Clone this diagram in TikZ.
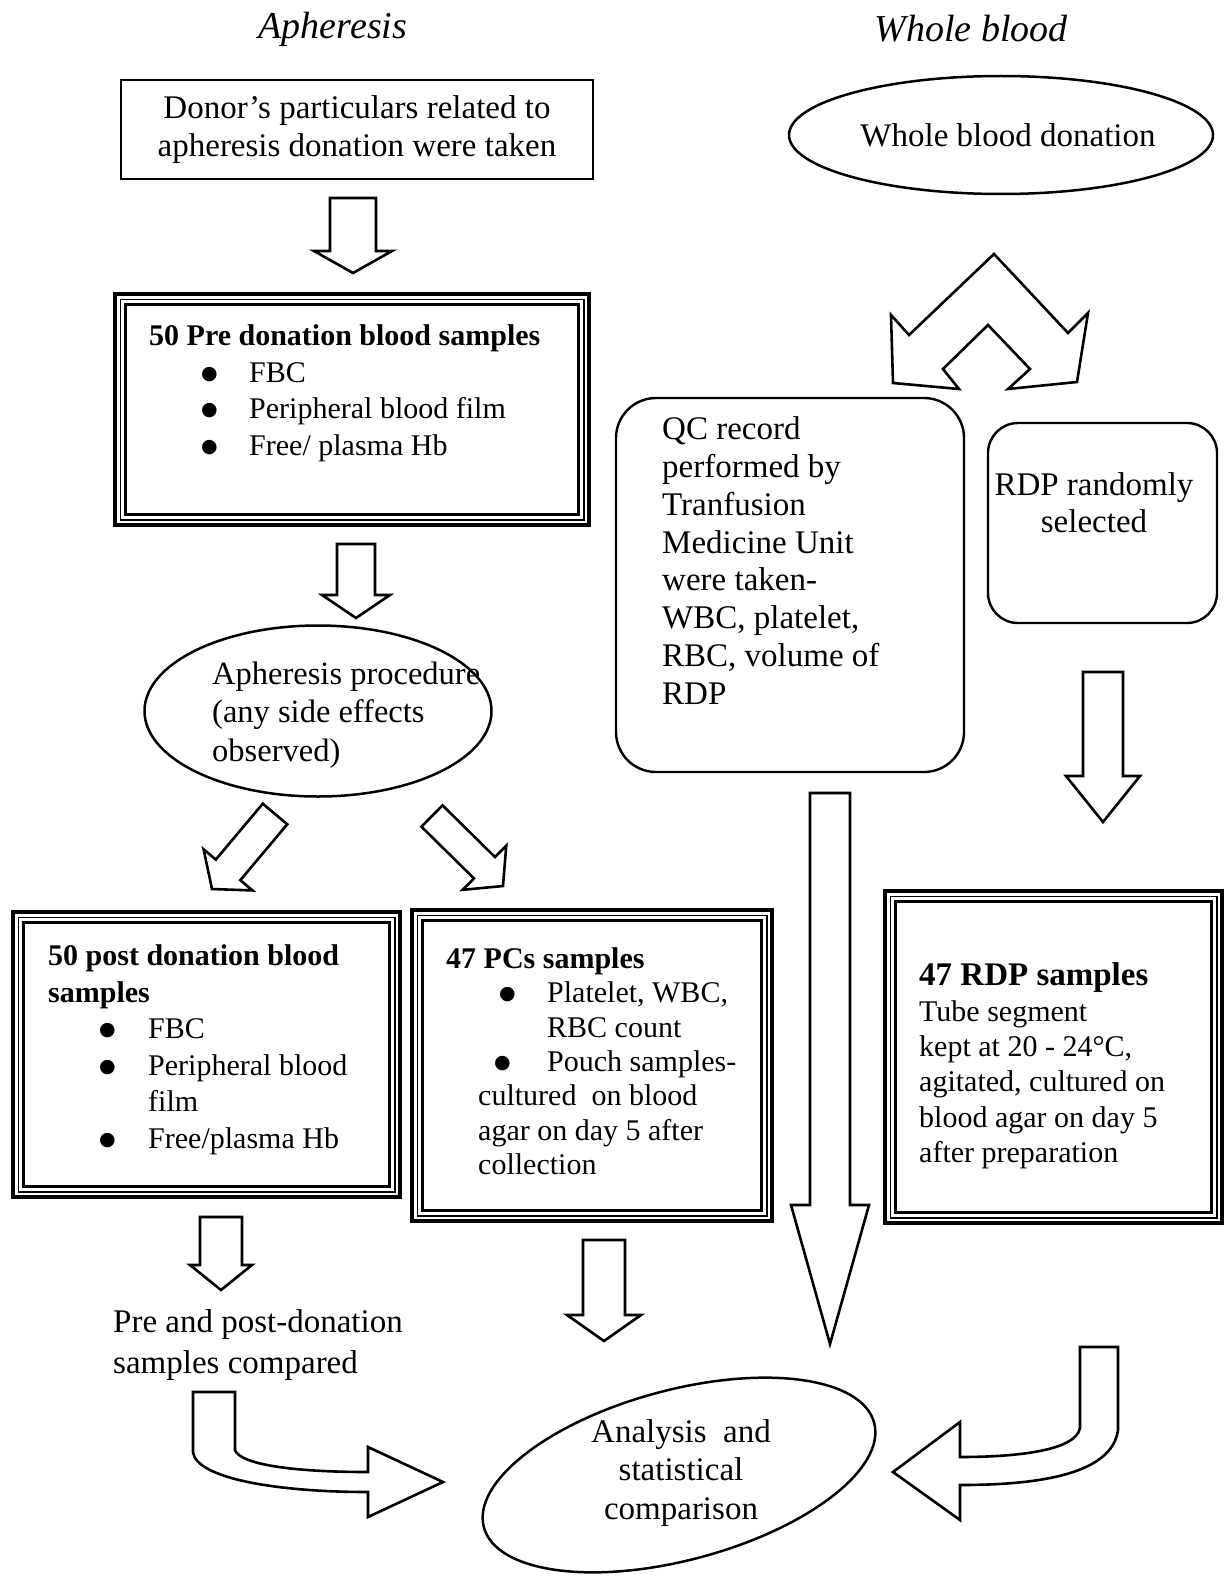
\documentclass[tikz,border=0pt]{standalone}
\usepackage{fontspec}
\setmainfont{Liberation Serif}
\newfontfamily\symfont{DejaVu Sans}
\usetikzlibrary{calc,shapes.geometric}
\tikzset{
  box/.style={draw, line width=2pt, align=center, inner sep=0pt, font=\fontsize{33}{38}\selectfont},
  oval/.style={draw, ellipse, line width=2.5pt, inner sep=0pt},
  rbox/.style={draw, line width=2.4pt, inner sep=0pt},
  txt/.style={inner sep=0pt, anchor=north west, align=left, font=\fontsize{33}{38}\selectfont},
  small/.style={inner sep=0pt, anchor=north west, align=left, font=\fontsize{30}{36.5}\selectfont},
  ttl/.style={inner sep=0pt, font=\fontsize{38}{44}\selectfont\itshape},
  blk/.style={draw, line width=2.6pt, fill=white, line join=miter},
}
\newcommand{\bul}[2]{\hspace*{#1pt}\makebox[#2pt][l]{\raisebox{3pt}{\symfont\fontsize{19}{19}\selectfont ●}}}
\newcommand{\blockarrow}[5]{%
  \coordinate (hb) at ($(#2)!#5pt!(#1)$);
  \draw[blk] ($(#1)!#3pt!90:(#2)$) -- ($(hb)!#3pt!90:(#2)$) -- ($(hb)!#4pt!90:(#2)$) -- (#2)
    -- ($(hb)!#4pt!-90:(#2)$) -- ($(hb)!#3pt!-90:(#2)$) -- ($(#1)!#3pt!-90:(#2)$) -- cycle;}
\newcommand{\tframe}[1]{%
  \draw[line width=4pt] ($(#1.north west)+(2,2)$) rectangle ($(#1.south east)+(-2,-2)$);
  \draw[line width=1.6pt] ($(#1.north west)+(7.5,7.5)$) rectangle ($(#1.south east)+(-7.5,-7.5)$);
  \draw[line width=3pt] ($(#1.north west)+(12.5,12.5)$) rectangle ($(#1.south east)+(-12.5,-12.5)$);}

\begin{document}
\begin{tikzpicture}[x=1pt,y=-1pt]
  \useasboundingbox (0,0) rectangle (1230,1581);
  \node[ttl] (tapher) at (333,29) {Apheresis};
  \node[ttl] (twhole) at (971,29) {Whole blood};

  \node[box, minimum width=472pt, minimum height=99pt] (donor) at (357,129.5)
    {Donor’s particulars related to\\apheresis donation were taken};
  \node[minimum width=478pt, minimum height=235pt, inner sep=0pt] (pre) at (352,409.5) {};
  \tframe{pre}
  \node[small, font=\fontsize{30}{36.7}\selectfont] (pretx) at (149,324.5)
    {\textbf{50 Pre donation blood samples}\\
     \bul{52}{48}FBC\\
     \bul{52}{48}Peripheral blood film\\
     \bul{52}{48}Free/ plasma Hb};
  \node[oval, minimum width=347pt, minimum height=171pt] (proc) at (318,711) {};
  \node[txt, font=\fontsize{32.5}{38.5}\selectfont] (proctx) at (212,661.5)
    {Apheresis procedure\\(any side effects\\observed)};

  \node[minimum width=391pt, minimum height=289pt, inner sep=0pt] (post) at (206.5,1054.5) {};
  \tframe{post}
  \node[small] (posttx) at (48,944.5)
    {\textbf{50 post donation blood}\\
     \textbf{samples}\\
     \bul{51}{49}FBC\\
     \bul{51}{49}Peripheral blood\\
     \hspace*{100pt}film\\
     \bul{51}{49}Free/plasma Hb};
  \node[minimum width=364pt, minimum height=315pt, inner sep=0pt] (pcs) at (592,1065.5) {};
  \tframe{pcs}
  \node[small, font=\fontsize{30}{34.3}\selectfont] (pcstx) at (446,947.5)
    {\textbf{47 PCs samples}\\
     \bul{53}{48}Platelet, WBC,\\
     \hspace*{101pt}RBC count\\
     \bul{48}{53}Pouch samples-\\
     \hspace*{32pt}cultured\ \ on blood\\
     \hspace*{32pt}agar on day 5 after\\
     \hspace*{32pt}collection};
  \node[txt, font=\fontsize{33}{40.5}\selectfont] (cmp) at (113,1309.5)
    {Pre and post-donation\\samples compared};

  \node[oval, minimum width=424pt, minimum height=118pt] (whole) at (1001,135) {};
  \node[inner sep=0pt, font=\fontsize{33}{38}\selectfont] (wholetx) at (1008,135) {Whole blood donation};
  \node[rbox, rounded corners=40pt, minimum width=348pt, minimum height=374pt] (qc) at (790,585) {};
  \node[txt, font=\fontsize{33}{37.8}\selectfont] (qctx) at (662,416.5)
    {QC record\\performed by\\Tranfusion\\Medicine Unit\\were taken-\\WBC, platelet,\\RBC, volume of\\RDP};
  \node[rbox, rounded corners=30pt, minimum width=229pt, minimum height=200pt] (sel) at (1102.5,523) {};
  \node[inner sep=0pt, align=center, font=\fontsize{33}{37}\selectfont] (seltx) at (1094,502.5)
    {RDP randomly\\selected};
  \node[minimum width=341pt, minimum height=336pt, inner sep=0pt] (rdp) at (1053.5,1057) {};
  \tframe{rdp}
  \node[small, font=\fontsize{30}{35.4}\selectfont] (rdptx) at (919,962.5)
    {{\fontsize{33}{35.4}\selectfont\bfseries 47 RDP samples}\\
     Tube segment\\
     kept at 20 - 24°C,\\
     agitated, cultured on\\
     blood agar on day 5\\
     after preparation};

  \node[oval, rotate=15, minimum width=404pt, minimum height=170pt] (ana) at (679,1475) {};
  \node[inner sep=0pt, align=center, font=\fontsize{33}{38.5}\selectfont] (anatx) at (681,1473)
    {Analysis\ \ and\\statistical\\comparison};

  \coordinate (a1s) at (353,198);  \coordinate (a1e) at (353,273);
  \coordinate (a2s) at (356,544);  \coordinate (a2e) at (356,618);
  \coordinate (a3s) at (275,814);  \coordinate (a3e) at (212,889);
  \coordinate (a4s) at (432,816);  \coordinate (a4e) at (503,886);
  \coordinate (a5s) at (221,1217); \coordinate (a5e) at (221,1290);
  \coordinate (a6s) at (604,1240); \coordinate (a6e) at (604,1341);
  \coordinate (a7s) at (830,793);  \coordinate (a7e) at (830,1344);
  \coordinate (a8s) at (1103,672); \coordinate (a8e) at (1103,822);
  \blockarrow{a1s}{a1e}{23}{39}{22}
  \blockarrow{a2s}{a2e}{19}{34}{23}
  \blockarrow{a3s}{a3e}{16}{32}{25}
  \blockarrow{a4s}{a4e}{15}{31}{26}
  \blockarrow{a5s}{a5e}{21}{31}{25}
  \blockarrow{a6s}{a6e}{21}{37}{26}
  \blockarrow{a7s}{a7e}{20}{39}{139}
  \blockarrow{a8s}{a8e}{20}{37}{46}

  \draw[blk] (994,254) -- (1068,333) -- (1088,313) -- (1077,382) -- (1008,389) -- (1030,369)
    -- (988,325) -- (943,369) -- (959,389) -- (893,383) -- (891,315) -- (909,335) -- cycle;
  \draw[blk] (193,1392) -- (235,1392) -- (235,1450) .. controls (240,1464) and (290,1472) .. (368,1472)
    -- (368,1447) -- (443,1482) -- (368,1517) -- (368,1492)
    .. controls (275,1492) and (196,1478) .. (193,1452) -- cycle;
  \draw[blk] (1080,1347) -- (1118,1347) -- (1118,1430) .. controls (1112,1474) and (1040,1485) .. (960,1485)
    -- (960,1520) -- (893,1472) -- (960,1422) -- (960,1457)
    .. controls (1020,1457) and (1076,1450) .. (1080,1428) -- cycle;
\end{tikzpicture}
\end{document}
